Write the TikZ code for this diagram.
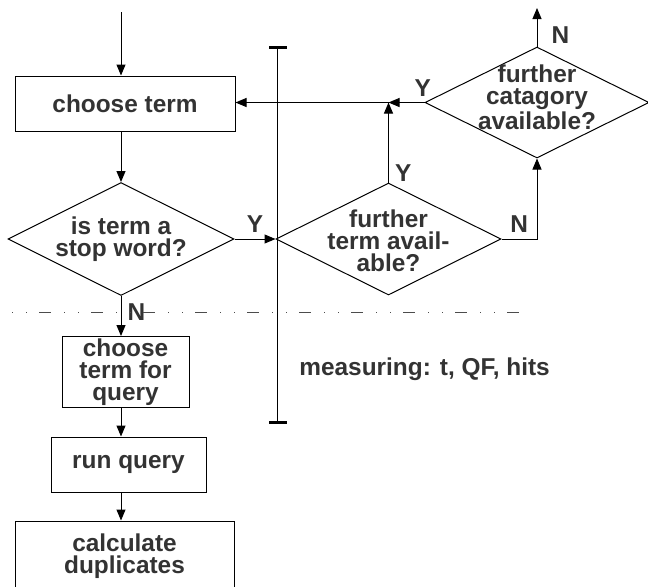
\documentclass[tikz,border=0pt]{standalone}
\usepackage{fontspec}
\setmainfont{Liberation Sans}
\usepackage{tikz}
\usetikzlibrary{positioning, arrows.meta, shapes.geometric}
\definecolor{inkgray}{RGB}{51,51,51}
\tikzset{
    txt/.style={text=inkgray, font=\fontsize{12.2}{11}\selectfont\bfseries, align=center},
    yn/.style={txt, inner sep=3pt},
    box/.style={draw, txt, inner sep=0pt, line width=0.5pt},
    decision/.style={draw, diamond, inner sep=0pt, line width=0.5pt},
    flow/.style={-{Triangle[length=5.5pt,width=4.5pt]}, line width=0.5pt},
    sepline/.style={black!70, line width=0.5pt,
        dash pattern=on 0.5pt off 6.5pt on 0.5pt off 6pt on 6pt off 6.5pt}
}
\begin{document}
\begin{tikzpicture}[x=0.5pt, y=-0.5pt]
    \useasboundingbox (0,0) rectangle (648,586);
    \clip (0,0) rectangle (648,586);

    % process boxes
    \node[box, minimum width=110pt, minimum height=27.5pt] (choose) at (125,103.5) {choose term};
    \node[box, minimum width=63.5pt, minimum height=35.5pt] (query) at (125.5,372) {choose\\term for\\query};
    \node[box, minimum width=77.5pt, minimum height=27.5pt] (run) at (128.5,464.5) {run query};
    \node[box, minimum width=109.5pt, minimum height=35pt] (calc) at (124.5,556) {calculate\\duplicates};

    % decisions
    \node[decision, minimum width=113pt, minimum height=56.5pt,
        label={[txt]center:is term a\\stop word?}] (stop) at (121,239) {};
    \node[decision, minimum width=112.5pt, minimum height=56pt,
        label={[txt, yshift=-1pt]center:further\\term avail-\\able?}] (term) at (388.5,239) {};
    \node[decision, minimum width=112pt, minimum height=55.5pt,
        label={[txt, yshift=2.5pt]center:further\\catagory\\available?}] (cat) at (537,102.5) {};

    % free ends
    \coordinate (start) at (121,12);
    \coordinate (exit) at (537,8);
    \coordinate (join) at (term.north |- cat.west);

    % main flow
    \draw[flow] (start) -- (start |- choose.north);
    \draw[flow] (stop.north |- choose.south) -- (stop.north);
    \draw[flow] (stop.east) -- node[yn, above] {Y} (term.west);
    \draw[flow] (stop.south) -- node[yn, pos=0.39, right=0pt] {N} (stop.south |- query.north);
    \draw[flow] (query.south -| stop.south) -- (run.north -| stop.south);
    \draw[flow] (run.south -| stop.south) -- (calc.north -| stop.south);

    % loop back
    \draw[flow] (term.north) -- node[yn, pos=0.12, right=0pt] {Y} (join);
    \draw[flow] (term.east) -| node[yn, pos=0.25, above] {N} (cat.south);
    \draw[flow] (cat.west) -- node[yn, pos=0.05, above] {Y} (join);
    \draw[flow] (join) -- (choose.east |- join);
    \draw[flow] (cat.north) -- node[yn, pos=0.3, right=4pt] {N} (exit);

    % separation
    \draw[sepline] (12,312) -- (530,312);

    % measuring range
    \coordinate (mtop) at (277,47);
    \coordinate (mbot) at (277,422);
    \draw[line width=0.5pt] (mtop) -- (mbot);
    \draw[line width=1.5pt] ([xshift=-4pt]mtop) -- ([xshift=5pt]mtop);
    \draw[line width=1.5pt] ([xshift=-4pt]mbot) -- ([xshift=5pt]mbot);
    \node[txt, anchor=west, inner sep=0pt] (meas) at (299,369) {measuring: t, QF, hits};
\end{tikzpicture}
\end{document}
